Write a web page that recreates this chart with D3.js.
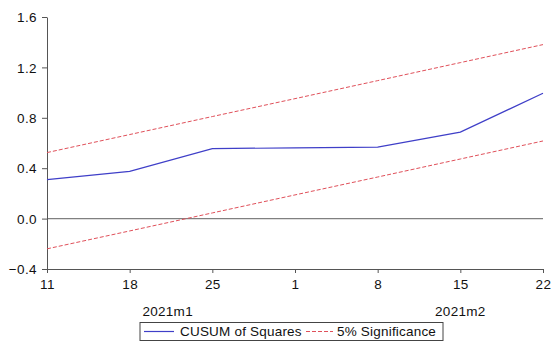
<!DOCTYPE html>
<html>
<head>
<meta charset="utf-8">
<script src="https://cdn.jsdelivr.net/npm/d3@7"></script>
<style>
  body { margin: 0; background: #fff; }
  svg { display: block; font-family: "Liberation Sans", Arial, sans-serif; }
</style>
</head>
<body>
<div id="chart-div"></div>
<script>
// weekly observations (day of month), Jan 11 .. Feb 22, 2021
const days    = ['11', '18', '25', '1', '8', '15', '22'];
const cusumSq = [0.31, 0.375, 0.555, 0.562, 0.567, 0.686, 0.995];
const upper   = [0.524, 0.667, 0.810, 0.952, 1.095, 1.238, 1.381];
const lower   = [-0.240, -0.098, 0.045, 0.188, 0.330, 0.473, 0.616];
const yTicks  = [-0.4, 0.0, 0.4, 0.8, 1.2, 1.6];
const months  = [{ label: '2021m1', at: 1.46 }, { label: '2021m2', at: 5.0 }];

const COLOR_BLUE = '#3f3fc8';
const COLOR_RED  = '#e0505a';
const COLOR_AXIS = '#555';
const FONT_SIZE  = '13.5px';

const width = 557, height = 349;
const margin = { top: 17, right: 14, bottom: 80, left: 47 };

const svg = d3.select('#chart-div').append('svg')
    .attr('width', width)
    .attr('height', height);

const x = d3.scaleLinear()
    .domain([0, days.length - 1])
    .range([margin.left, width - margin.right]);
const y = d3.scaleLinear()
    .domain([-0.4, 1.6])
    .range([height - margin.bottom, margin.top]);

// zero line
svg.append('line')
    .attr('x1', x(0)).attr('x2', x(days.length - 1))
    .attr('y1', y(0)).attr('y2', y(0))
    .attr('stroke', '#808080').attr('stroke-width', 1.2);

// axes
const yAxis = svg.append('g')
    .attr('transform', `translate(${margin.left},0)`)
    .call(d3.axisLeft(y).tickValues(yTicks).tickFormat(d3.format('.1f')).tickSize(5).tickSizeOuter(0));
const xAxis = svg.append('g')
    .attr('transform', `translate(0,${height - margin.bottom})`)
    .call(d3.axisBottom(x).tickValues(d3.range(days.length)).tickFormat(i => days[i]).tickSize(4).tickSizeOuter(0));

[yAxis, xAxis].forEach(g => {
    g.select('.domain').attr('stroke', COLOR_AXIS);
    g.selectAll('.tick line').attr('stroke', COLOR_AXIS);
    g.selectAll('.tick text')
        .attr('fill', '#111')
        .style('font-size', FONT_SIZE)
        .style('letter-spacing', '0.4px')
        .style('font-family', '"Liberation Sans", Arial, sans-serif');
});
yAxis.selectAll('.tick text').attr('x', -10).attr('dy', '0.35em');
xAxis.selectAll('.tick text').attr('y', 10);

// month labels
svg.selectAll('.month')
    .data(months)
    .join('text')
    .attr('x', d => x(d.at))
    .attr('y', y(-0.4) + 47)
    .attr('text-anchor', 'middle')
    .attr('fill', '#111')
    .style('font-size', FONT_SIZE)
    .style('letter-spacing', '0.3px')
    .text(d => d.label);

const line = d3.line().x((d, i) => x(i)).y(d => y(d));

// significance bands
[upper, lower].forEach(band => {
    svg.append('path')
        .datum(band)
        .attr('fill', 'none')
        .attr('stroke', COLOR_RED)
        .attr('stroke-width', 1)
        .attr('stroke-dasharray', '4 2')
        .attr('d', line);
});

// CUSUM of squares
svg.append('path')
    .datum(cusumSq)
    .attr('fill', 'none')
    .attr('stroke', COLOR_BLUE)
    .attr('stroke-width', 1.2)
    .attr('d', line);

// legend
const lg = svg.append('g').attr('transform', 'translate(140,322.5)');
lg.append('rect')
    .attr('width', 303).attr('height', 18)
    .attr('fill', '#fff').attr('stroke', '#444').attr('stroke-width', 1);
lg.append('line')
    .attr('x1', 4).attr('x2', 34).attr('y1', 9).attr('y2', 9)
    .attr('stroke', COLOR_BLUE).attr('stroke-width', 1.2);
lg.append('text')
    .attr('x', 40).attr('y', 9).attr('dy', '0.35em')
    .attr('fill', '#111').style('font-size', FONT_SIZE).style('letter-spacing', '0.2px')
    .text('CUSUM of Squares');
lg.append('line')
    .attr('x1', 166).attr('x2', 193).attr('y1', 9).attr('y2', 9)
    .attr('stroke', COLOR_RED).attr('stroke-width', 1).attr('stroke-dasharray', '4 2');
lg.append('text')
    .attr('x', 197).attr('y', 9).attr('dy', '0.35em')
    .attr('fill', '#111').style('font-size', FONT_SIZE).style('letter-spacing', '0.2px')
    .text('5% Significance');
</script>
</body>
</html>
